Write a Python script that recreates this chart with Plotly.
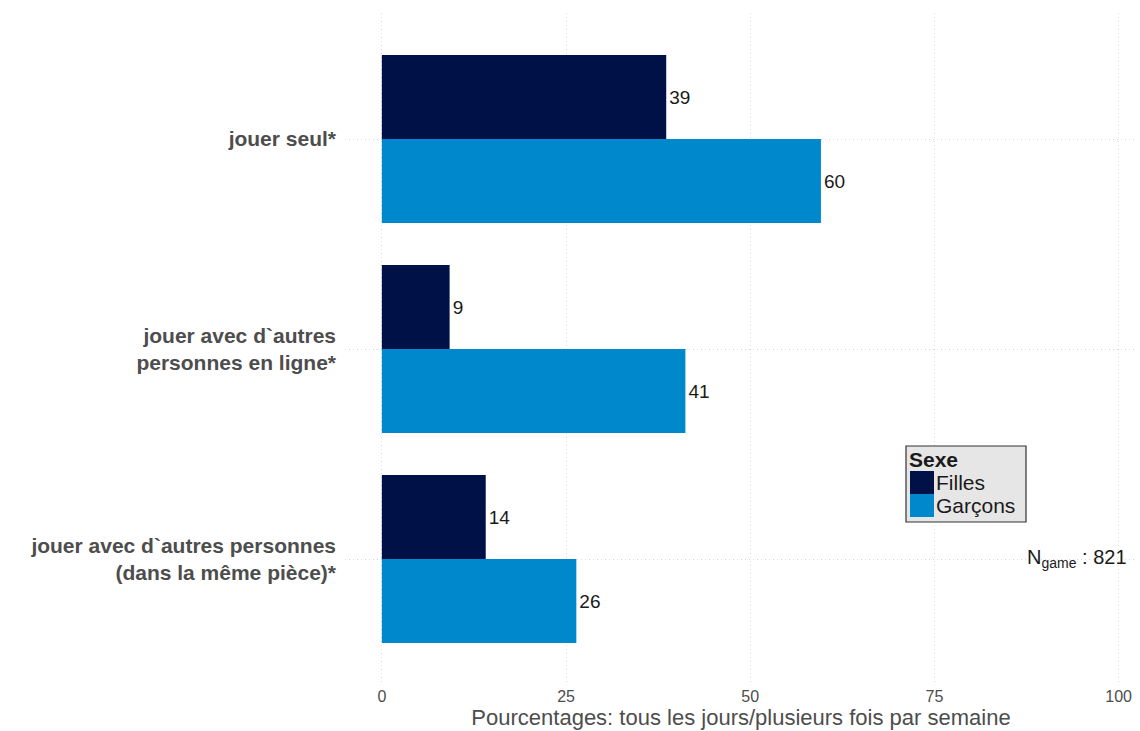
import plotly.graph_objects as go

categories = ["jouer seul*", "jouer avec d`autres<br>personnes en ligne*", "jouer avec d`autres personnes<br>(dans la même pièce)*"]
filles = [38.6, 9.2, 14.1]
garcons = [59.6, 41.2, 26.4]
filles_labels = ["39", "9", "14"]
garcons_labels = ["60", "41", "26"]
tick_vals = [0, 25, 50, 75, 100]
tick_text = ["0", "25", "50", "75", "100"]
series_names = ["Filles", "Garçons"]
colors = ["#001147", "#0088CC"]

FONT = "Liberation Sans, Arial, Helvetica, sans-serif"

fig = go.Figure()
for name, vals, labs, col in [(series_names[0], filles, filles_labels, colors[0]),
                              (series_names[1], garcons, garcons_labels, colors[1])]:
    fig.add_trace(go.Bar(
        y=categories, x=vals, name=name, orientation="h",
        marker=dict(color=col, line=dict(width=0)),
        text=labs, textposition="outside", cliponaxis=False,
        textfont=dict(family=FONT, size=19, color="#1a1a1a"),
        showlegend=False,
    ))

L, R, T, B = 345, 3, 13, 46
W, H = 1140, 731
pw = W - L - R
ph = H - T - B

def px_x(x):
    return (x - L) / pw

def px_y(y):
    return (H - B - y) / ph

shapes = []
# legend box
shapes.append(dict(type="rect", xref="paper", yref="paper",
                   x0=px_x(906), x1=px_x(1026), y0=px_y(522), y1=px_y(446),
                   fillcolor="#e6e6e6", line=dict(color="#333333", width=1.2), layer="above"))
for i, col in enumerate(colors):
    shapes.append(dict(type="rect", xref="paper", yref="paper",
                       x0=px_x(910), x1=px_x(934), y0=px_y(494 + 23 * i), y1=px_y(471 + 23 * i),
                       fillcolor=col, line=dict(width=0), layer="above"))

annotations = [
    dict(xref="paper", yref="paper", x=px_x(907), y=px_y(459), text="<b>Sexe</b>",
         showarrow=False, xanchor="left", yanchor="middle",
         font=dict(family=FONT, size=21, color="#1a1a1a")),
]
for i, n in enumerate(series_names):
    annotations.append(dict(xref="paper", yref="paper", x=px_x(934), y=px_y(482 + 23 * i), text=n,
                            showarrow=False, xanchor="left", yanchor="middle",
                            font=dict(family=FONT, size=21, color="#1a1a1a")))
annotations.append(dict(xref="paper", yref="paper", x=px_x(1129), y=px_y(558),
                        text="N<sub>game</sub> : 821", showarrow=False, xanchor="right", yanchor="middle",
                        font=dict(family=FONT, size=20, color="#1a1a1a")))

fig.update_layout(
    width=W, height=H,
    margin=dict(l=L, r=R, t=T, b=B),
    paper_bgcolor="white", plot_bgcolor="white",
    barmode="group", bargap=0.2, bargroupgap=0,
    shapes=shapes, annotations=annotations,
    font=dict(family=FONT),
    xaxis=dict(range=[-5, 102.5], tickvals=tick_vals, ticktext=tick_text,
               showgrid=True, gridcolor="#d9d9d9", griddash="1px,3px", gridwidth=1,
               zeroline=False, showline=False, ticks="",
               tickfont=dict(family=FONT, size=16, color="#4d4d4d"),
               title=dict(text="Pourcentages: tous les jours/plusieurs fois par semaine",
                          font=dict(family=FONT, size=22, color="#4d4d4d"), standoff=0)),
    yaxis=dict(categoryorder="array", categoryarray=categories, range=[2.6, -0.6],
               showgrid=True, gridcolor="#d9d9d9", griddash="1px,3px", gridwidth=1,
               zeroline=False, showline=False, ticks="", ticklabelstandoff=8,
               tickfont=dict(family=FONT, size=21, color="#4d4d4d", weight="bold")),
)

fig.write_html("out.html", config={"displayModeBar": False},
               post_script="document.body.style.margin='0';document.body.style.padding='0';")
